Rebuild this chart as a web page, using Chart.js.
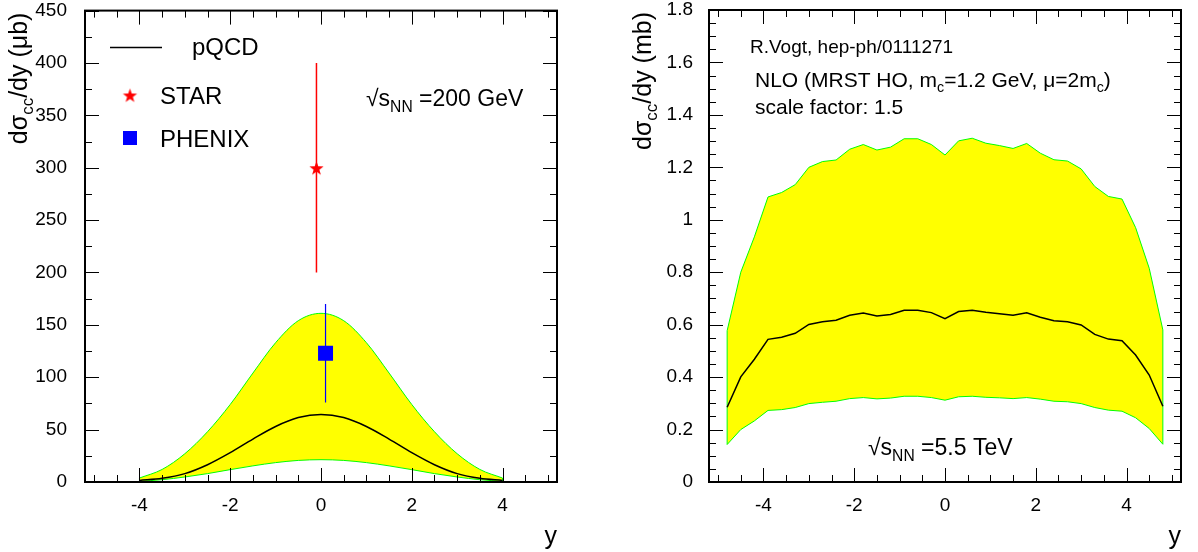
<!DOCTYPE html>
<html>
<head>
<meta charset="utf-8">
<title>Charm rapidity distributions</title>
<script src="https://cdn.jsdelivr.net/npm/chart.js@4.4.1/dist/chart.umd.min.js"></script>
<style>
  html, body { margin: 0; padding: 0; background: #fff; }
  #wrap { position: relative; width: 1198px; height: 552px; overflow: hidden; }
  .pane { position: absolute; top: 0; width: 599px; height: 552px; }
</style>
</head>
<body>
<div id="wrap">
  <div class="pane" style="left:0"><canvas id="rhic" width="599" height="552"></canvas></div>
  <div class="pane" style="left:599px"><canvas id="lhc" width="599" height="552"></canvas></div>
</div>
<script>
// dσ_cc/dy vs rapidity: RHIC (200 GeV) with STAR/PHENIX points, LHC (5.5 TeV) prediction

const FONT = '"Liberation Sans", Arial, Helvetica, sans-serif';
const YELLOW = '#ffff00';
const GREEN = '#00ff00';
const RED = '#ff0000';
const BLUE = '#0000ff';

// --- RHIC, sqrt(s_NN) = 200 GeV (μb) ---
const rhicRap = [-4, -3.5, -3, -2.5, -2, -1.5, -1, -0.5, 0, 0.5, 1, 1.5, 2, 2.5, 3, 3.5, 4];
const rhicCentral = [1.5, 3.5, 8, 16.5, 28, 41, 53, 61.5, 64.5, 61.5, 53, 41, 28, 16.5, 8, 3.5, 1.5];
const rhicUpper = [3.8, 12, 27, 48, 74, 104, 133, 154, 161, 154, 133, 104, 74, 48, 27, 12, 3.8];
const rhicLower = [0.6, 2.2, 4.8, 8, 11.8, 15.4, 18.5, 20.6, 21.3, 20.6, 18.5, 15.4, 11.8, 8, 4.8, 2.2, 0.6];

// measurements
const expNames = ['STAR', 'PHENIX'];
const expRap = [-0.1, 0.1];
const expValue = [300, 123];
const expError = [100, 47];

// --- LHC, sqrt(s_NN) = 5.5 TeV (mb) ---
const lhcRap = [-4.8, -4.5, -4.2, -3.9, -3.6, -3.3, -3.0, -2.7, -2.4, -2.1, -1.8, -1.5, -1.2, -0.9, -0.6, -0.3,
  0, 0.3, 0.6, 0.9, 1.2, 1.5, 1.8, 2.1, 2.4, 2.7, 3.0, 3.3, 3.6, 3.9, 4.2, 4.5, 4.8];
const lhcCentral = [0.285, 0.401, 0.468, 0.544, 0.552, 0.567, 0.601, 0.611, 0.617, 0.636, 0.644, 0.633, 0.639, 0.655, 0.655, 0.646,
  0.623, 0.650, 0.655, 0.647, 0.642, 0.636, 0.645, 0.628, 0.615, 0.611, 0.599, 0.563, 0.545, 0.539, 0.484, 0.408, 0.289];
const lhcUpper = [0.577, 0.80, 0.935, 1.087, 1.104, 1.134, 1.200, 1.222, 1.228, 1.269, 1.287, 1.266, 1.277, 1.309, 1.309, 1.287,
  1.247, 1.301, 1.311, 1.292, 1.283, 1.272, 1.291, 1.254, 1.229, 1.224, 1.194, 1.127, 1.089, 1.079, 0.97, 0.815, 0.58];
const lhcLower = [0.143, 0.200, 0.233, 0.273, 0.276, 0.284, 0.299, 0.304, 0.308, 0.318, 0.322, 0.317, 0.320, 0.327, 0.327, 0.322,
  0.312, 0.325, 0.327, 0.323, 0.321, 0.318, 0.322, 0.316, 0.308, 0.306, 0.299, 0.284, 0.274, 0.270, 0.245, 0.204, 0.144];

// tick labels
const rapTicks = [-4, -2, 0, 2, 4];
const rhicTicks = [0, 50, 100, 150, 200, 250, 300, 350, 400, 450];
const lhcTicks = [0, 0.2, 0.4, 0.6, 0.8, 1, 1.2, 1.4, 1.6, 1.8];

const MAJOR = 14;
const MINOR = 7;

function pts(xs, ys) {
  return xs.map((x, i) => ({ x, y: ys[i] }));
}

// filled 5-point star used as a marker
function makeStar(r) {
  const c = document.createElement('canvas');
  const s = Math.ceil(r * 2 + 2);
  c.width = s; c.height = s;
  const g = c.getContext('2d');
  g.fillStyle = RED;
  g.beginPath();
  for (let i = 0; i < 10; i++) {
    const rad = i % 2 === 0 ? r : r * 0.4;
    const a = -Math.PI / 2 + i * Math.PI / 5;
    g.lineTo(s / 2 + rad * Math.cos(a), s / 2 + 1 + rad * Math.sin(a));
  }
  g.closePath();
  g.fill();
  return c;
}
const starMarker = makeStar(7.5);

// text with subscripts: parts = [[text, isSub], ...]
function richText(ctx, parts, x, y, size, align) {
  const fontFor = sub => `${sub ? size * 0.68 : size}px ${FONT}`;
  const widths = parts.map(([t, sub]) => {
    ctx.font = fontFor(sub);
    return ctx.measureText(t).width;
  });
  const total = widths.reduce((a, b) => a + b, 0);
  let cx = align === 'right' ? x - total : x;
  ctx.textAlign = 'left';
  ctx.textBaseline = 'alphabetic';
  parts.forEach(([t, sub], i) => {
    ctx.font = fontFor(sub);
    ctx.fillText(t, cx, y + (sub ? size * 0.25 : 0));
    cx += widths[i];
  });
}

function bandDatasets(xs, upper, central, lower, smooth) {
  const n = xs.length - 1;
  const curve = smooth ? { cubicInterpolationMode: 'monotone' } : { tension: 0 };
  return [
    { data: pts(xs, upper), borderColor: GREEN, borderWidth: 1, backgroundColor: YELLOW, fill: 1, order: 5, ...curve },
    { data: pts(xs, lower), borderColor: GREEN, borderWidth: 1, fill: false, order: 4, ...curve },
    { data: [{ x: xs[0], y: lower[0] }, { x: xs[0], y: upper[0] }], borderColor: GREEN, borderWidth: 1, order: 3 },
    { data: [{ x: xs[n], y: lower[n] }, { x: xs[n], y: upper[n] }], borderColor: GREEN, borderWidth: 1, order: 3 },
    { data: pts(xs, central), borderColor: '#000', borderWidth: 1.5, fill: false, order: 2, ...curve }
  ];
}

// ROOT style frame: ticks inside on all four sides
function framePlugin(cfg) {
  return {
    id: 'rootFrame',
    afterDraw(chart) {
      const { ctx, chartArea: a, scales: { x, y } } = chart;
      ctx.save();
      ctx.strokeStyle = '#000';
      ctx.lineWidth = 1;
      ctx.beginPath();
      for (let v = cfg.xFirst; v <= cfg.xLast + 1e-9; v += cfg.xMinor) {
        const isMajor = Math.abs(v / cfg.xMajor - Math.round(v / cfg.xMajor)) < 1e-6;
        const len = isMajor ? MAJOR : MINOR;
        const px = Math.round(x.getPixelForValue(v)) + 0.5;
        ctx.moveTo(px, a.bottom); ctx.lineTo(px, a.bottom - len);
        ctx.moveTo(px, a.top); ctx.lineTo(px, a.top + len);
      }
      for (let v = 0; v <= cfg.yMax + 1e-9; v += cfg.yMinor) {
        const isMajor = Math.abs(v / cfg.yMajor - Math.round(v / cfg.yMajor)) < 1e-6;
        const len = isMajor ? MAJOR : MINOR;
        const py = Math.round(y.getPixelForValue(v)) + 0.5;
        ctx.moveTo(a.left, py); ctx.lineTo(a.left + len, py);
        ctx.moveTo(a.right, py); ctx.lineTo(a.right - len, py);
      }
      ctx.stroke();
      ctx.lineWidth = 2;
      ctx.strokeRect(a.left, a.top, a.right - a.left, a.bottom - a.top);

      ctx.fillStyle = '#000';
      // y axis title, aligned to top of the axis
      ctx.save();
      ctx.translate(cfg.titleX, a.top + 2);
      ctx.rotate(-Math.PI / 2);
      richText(ctx, cfg.yTitle, 0, 0, 25, 'right');
      ctx.restore();
      // x axis title
      ctx.font = `25px ${FONT}`;
      ctx.textAlign = 'right';
      ctx.textBaseline = 'alphabetic';
      ctx.fillText('y', a.right, 544);

      if (cfg.extra) cfg.extra(ctx, chart);
      ctx.restore();
    }
  };
}

function makeOptions(yMax, yTickList, yWidth, yPad, padRight) {
  return {
    responsive: false,
    animation: false,
    events: [],
    layout: { padding: { left: 0, top: 10, right: padRight, bottom: 0 } },
    elements: { point: { radius: 0, hoverRadius: 0 } },
    plugins: { legend: { display: false }, tooltip: { enabled: false } },
    scales: {
      x: {
        type: 'linear', min: -5.2, max: 5.2,
        grid: { display: false }, border: { display: false },
        afterBuildTicks: s => { s.ticks = rapTicks.map(v => ({ value: v })); },
        afterFit: s => { s.height = 70; },
        ticks: {
          color: '#000', padding: 4, maxRotation: 0, autoSkip: false,
          font: { family: FONT, size: 19 },
          callback: v => String(v)
        }
      },
      y: {
        type: 'linear', min: 0, max: yMax,
        grid: { display: false }, border: { display: false },
        afterBuildTicks: s => { s.ticks = yTickList.map(v => ({ value: v })); },
        afterFit: s => { s.width = yWidth; s.paddingTop = 0; s.paddingBottom = 0; },
        ticks: {
          color: '#000', padding: yPad, autoSkip: false,
          font: { family: FONT, size: 19, lineHeight: 0.5 },
          callback: v => String(+v.toFixed(1))
        }
      }
    }
  };
}

// ---- left panel: RHIC ----
const rhicSets = bandDatasets(rhicRap, rhicUpper, rhicCentral, rhicLower, true);
expNames.forEach((name, i) => {
  const col = i === 0 ? RED : BLUE;
  rhicSets.push({
    data: [{ x: expRap[i], y: expValue[i] - expError[i] }, { x: expRap[i], y: expValue[i] + expError[i] }],
    borderColor: col, borderWidth: i === 0 ? 1.5 : 1.2, order: 1
  });
  rhicSets.push({
    label: name,
    data: [{ x: expRap[i], y: expValue[i] }],
    showLine: false,
    pointStyle: i === 0 ? starMarker : 'rect',
    pointRadius: i === 0 ? 8 : 10.6,
    backgroundColor: col, borderColor: col, borderWidth: 0,
    order: 0
  });
});

new Chart(document.getElementById('rhic'), {
  type: 'line',
  data: { datasets: rhicSets },
  options: makeOptions(450, rhicTicks, 85, 10, 42),
  plugins: [framePlugin({
    xFirst: -5, xLast: 5, xMinor: 0.5, xMajor: 2,
    yMax: 450, yMinor: 25, yMajor: 50,
    titleX: 27,
    yTitle: [['dσ', false], ['cc', true], ['/dy (μb)', false]],
    extra(ctx) {
      // legend
      ctx.lineWidth = 1.5;
      ctx.strokeStyle = '#000';
      ctx.beginPath(); ctx.moveTo(110, 47.5); ctx.lineTo(162, 47.5); ctx.stroke();
      ctx.drawImage(starMarker, 130 - starMarker.width / 2, 95 - starMarker.height / 2);
      ctx.fillStyle = BLUE;
      ctx.fillRect(123, 131, 14, 14);
      ctx.fillStyle = '#000';
      ctx.font = `24px ${FONT}`;
      ctx.textAlign = 'left';
      ctx.fillText('pQCD', 192, 55);
      ctx.fillText(expNames[0], 160, 104);
      ctx.fillText(expNames[1], 160, 147);
      richText(ctx, [['√s', false], ['NN', true], [' =200 GeV', false]], 366, 106, 23, 'left');
    }
  })]
});

// ---- right panel: LHC ----
new Chart(document.getElementById('lhc'), {
  type: 'line',
  data: { datasets: bandDatasets(lhcRap, lhcUpper, lhcCentral, lhcLower, false) },
  options: makeOptions(1.8, lhcTicks, 110, 8, 17),
  plugins: [framePlugin({
    xFirst: -5, xLast: 5, xMinor: 0.5, xMajor: 2,
    yMax: 1.8, yMinor: 0.05, yMajor: 0.2,
    titleX: 52,
    yTitle: [['dσ', false], ['cc', true], ['/dy (mb)', false]],
    extra(ctx) {
      ctx.fillStyle = '#000';
      ctx.font = `19px ${FONT}`;
      ctx.textAlign = 'left';
      ctx.fillText('R.Vogt, hep-ph/0111271', 151, 53);
      richText(ctx, [['NLO (MRST HO, m', false], ['c', true], ['=1.2 GeV, μ=2m', false], ['c', true], [')', false]], 156, 87, 21, 'left');
      ctx.font = `21px ${FONT}`;
      ctx.fillText('scale factor: 1.5', 156, 114);
      richText(ctx, [['√s', false], ['NN', true], [' =5.5 TeV', false]], 269, 455, 23, 'left');
    }
  })]
});
</script>
</body>
</html>
